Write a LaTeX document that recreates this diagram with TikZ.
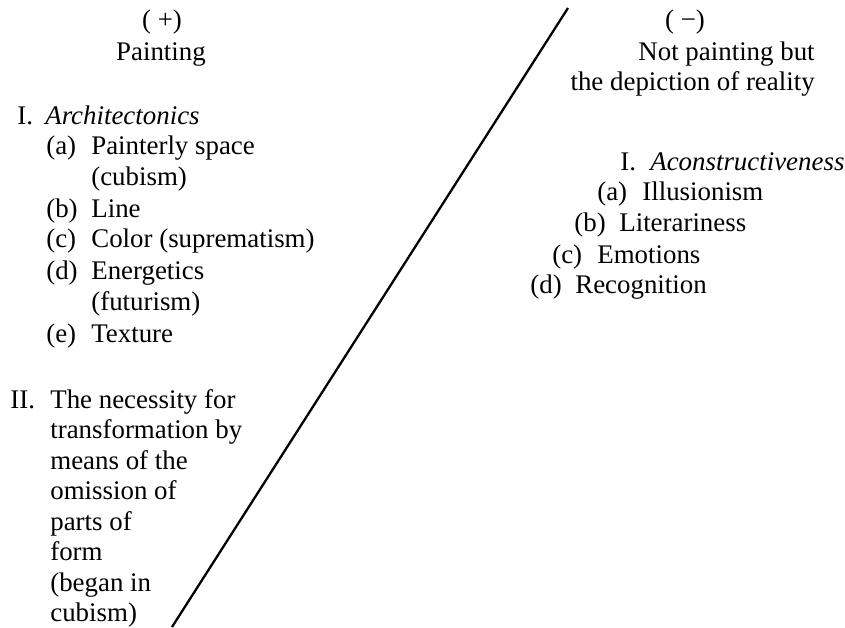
\documentclass[tikz,border=0pt]{standalone}
\usepackage{fontspec}
\setmainfont{Liberation Serif}
\tikzset{
  txt/.style={inner sep=0pt,font=\fontsize{15.3}{18.4}\selectfont},
  entry/.style={txt,anchor=base west},
  head/.style={txt,anchor=base},
  headr/.style={txt,anchor=base east},
}
\begin{document}
\begin{tikzpicture}[x=0.02cm,y=-0.02cm]
\useasboundingbox (0,0) rectangle (845,628);

% Dividing stroke
\coordinate (cut-bot) at (172,627);
\coordinate (cut-top) at (568,8);
\draw[line width=1.3pt] (cut-bot) -- (cut-top);

% Left heading
\node[head] (plus) at (162,29) {( +)};
\node[head] (painting) at (161,61) {Painting};

% Section I, left side
\node[entry] (arch-num) at (17,125) {I.};
\node[entry] (arch) at (45,125) {\itshape Architectonics};
\foreach \n/\y/\txt in {a/155/Painterly space, b/217/Line, c/248/Color (suprematism), d/279/Energetics, e/342/Texture} {
    \node[entry] (arch-\n-lbl) at (46,\y) {(\n)};
    \node[entry] (arch-\n) at (91,\y) {\txt};
}
\node[entry] (arch-a-more) at (91,186) {(cubism)};
\node[entry] (arch-d-more) at (91,310) {(futurism)};

% Section II, left side
\node[entry] (omit-num) at (10,408) {II.};
\foreach \i/\y/\txt in {1/408/The necessity for, 2/438/transformation by, 3/469/means of the, 4/499/omission of, 5/530/parts of, 6/560/form, 7/591/(began in, 8/621/cubism)} {
    \node[entry] (omit-\i) at (50,\y) {\txt};
}

% Right heading
\node[head] (minus) at (685,29) {( −)};
\node[headr] (notpaint) at (815,61) {Not painting but};
\node[headr] (depict) at (815,91) {the depiction of reality};

% Section I, right side
\node[entry] (acon-num) at (620,171) {I.};
\node[entry] (acon) at (650,171) {\itshape Aconstructiveness};
\foreach \n/\x/\y/\txt in {a/597/201/Illusionism, b/574/232/Literariness, c/552/263/Emotions, d/530/294/Recognition} {
    \node[entry] (acon-\n-lbl) at (\x,\y) {(\n)};
    \node[entry] (acon-\n) at (\x+45,\y) {\txt};
}
\end{tikzpicture}
\end{document}
